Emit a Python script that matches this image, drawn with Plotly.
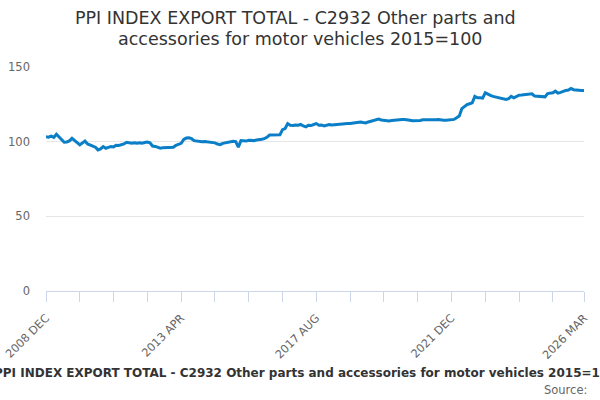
import plotly.graph_objects as go

MONTHS = ["JAN", "FEB", "MAR", "APR", "MAY", "JUN", "JUL", "AUG", "SEP", "OCT", "NOV", "DEC"]
start_year, start_month = 2008, 12
n_points = 208
categories = []
for k in range(n_points):
    m = (start_month - 1 + k) % 12
    y = start_year + (start_month - 1 + k) // 12
    categories.append(f"{y} {MONTHS[m]}")

values = [
    103.3, 103.0, 103.7, 102.9, 105.0, 103.3, 101.0, 99.6, 99.8, 100.5,
    102.2, 100.5, 99.3, 97.8, 98.9, 100.4, 98.5, 97.8, 97.1, 96.3,
    94.5, 95.2, 96.7, 95.6, 96.2, 96.7, 96.5, 97.6, 97.4, 97.8,
    98.5, 99.6, 99.3, 99.0, 99.3, 98.9, 99.3, 98.9, 99.4, 99.8,
    99.3, 97.1, 96.8, 96.3, 95.6, 96.0, 96.0, 96.2, 96.3, 96.3,
    97.6, 98.2, 98.9, 101.5, 102.4, 102.6, 102.0, 100.7, 100.4, 100.2,
    100.0, 100.1, 100.0, 99.8, 99.6, 99.2, 98.4, 98.0, 98.9, 99.3,
    99.6, 100.0, 100.2, 100.0, 96.3, 100.7, 100.4, 100.4, 100.9, 100.7,
    100.7, 101.1, 101.1, 101.6, 102.0, 102.9, 104.4, 104.4, 104.2, 104.4,
    104.6, 108.1, 108.8, 112.1, 111.0, 110.8, 111.2, 111.0, 111.5, 110.5,
    109.9, 111.0, 110.8, 111.5, 112.1, 111.0, 111.2, 110.5, 111.0, 111.4,
    111.2, 111.4, 111.6, 111.8, 112.1, 111.9, 112.1, 112.1, 112.4, 112.5,
    112.9, 113.2, 112.8, 112.5, 113.2, 113.6, 114.0, 114.2, 115.1, 114.5,
    114.3, 113.9, 113.8, 114.1, 114.3, 114.7, 114.8, 114.9, 114.8, 114.7,
    114.3, 114.0, 113.9, 113.8, 114.2, 114.7, 114.6, 114.5, 114.5, 114.5,
    114.7, 114.9, 114.5, 114.3, 114.3, 114.4, 114.6, 114.9, 116.0, 117.1,
    122.1, 123.5, 124.8, 125.4, 126.0, 130.3, 129.4, 129.4, 129.2, 132.7,
    131.6, 131.0, 130.3, 129.8, 129.4, 129.0, 128.5, 128.3, 128.8, 130.3,
    129.4, 130.2, 131.1, 131.2, 131.4, 131.5, 131.6, 132.0, 130.5, 130.4,
    130.3, 129.8, 130.0, 132.2, 132.5, 132.7, 133.8, 132.5, 133.0, 133.8,
    134.3, 134.6, 135.6, 134.8, 134.5, 134.7, 134.3, 134.3,
]

labelled = ["2008 DEC", "2013 APR", "2017 AUG", "2021 DEC", "2026 MAR"]
y_ticks = [0, 50, 100, 150]

tick_idx = list(range(0, n_points - 1, 13)) + [n_points - 1]
tickvals = [categories[i] for i in tick_idx]
ticktext = [c if c in labelled else "" for c in tickvals]

title_lines = ["PPI INDEX EXPORT TOTAL - C2932 Other parts and",
               "accessories for motor vehicles 2015=100"]
bottom_text = "PPI INDEX EXPORT TOTAL - C2932 Other parts and accessories for motor vehicles 2015=100"

# plot area geometry (pixels)
L, R, T, B = 46, 16, 67, 109
W, H = 600, 400
PW, PH = W - L - R, H - T - B


def px_to_paper_x(px):
    return (px - L) / PW


def px_to_paper_y(py):
    return (H - B - py) / PH


fig = go.Figure()
fig.add_trace(go.Scatter(
    x=categories, y=values, mode="lines",
    line=dict(color="#0a7ec6", width=3),
    hoverinfo="x+y",
))

annotations = []
for line, cx, py in zip(title_lines, [295, 300], [18.5, 38.5]):
    annotations.append(dict(
        text=line, xref="paper", yref="paper",
        x=px_to_paper_x(cx), y=px_to_paper_y(py),
        xanchor="center", yanchor="middle", showarrow=False,
        font=dict(size=17.5, color="#333333", family="DejaVu Sans")))
annotations.append(dict(
    text="<b>" + bottom_text + "</b>", xref="paper", yref="paper",
    x=px_to_paper_x(305), y=px_to_paper_y(373),
    xanchor="center", yanchor="middle", showarrow=False,
    font=dict(size=12, color="#333333", family="DejaVu Sans")))
annotations.append(dict(
    text="Source:", xref="paper", yref="paper",
    x=px_to_paper_x(589), y=px_to_paper_y(390),
    xanchor="right", yanchor="middle", showarrow=False,
    font=dict(size=11.5, color="#666666", family="DejaVu Sans")))

fig.update_layout(
    width=W, height=H,
    margin=dict(l=L, r=R, t=T, b=B, autoexpand=False),
    paper_bgcolor="white", plot_bgcolor="white",
    font=dict(family="DejaVu Sans", color="#666666", size=11),
    showlegend=False,
    xaxis=dict(
        type="category",
        range=[0, n_points - 1],
        tickmode="array", tickvals=tickvals, ticktext=ticktext,
        tickangle=-45,
        ticks="outside", ticklen=10, tickcolor="#ccd6eb", tickwidth=1,
        showline=True, linecolor="#ccd6eb", linewidth=1,
        showgrid=False, zeroline=False, automargin=False,
        ticklabelstandoff=5,
        tickfont=dict(size=11.3, color="#666666"),
    ),
    yaxis=dict(
        range=[0, 150],
        tickmode="array", tickvals=y_ticks,
        showgrid=True, gridcolor="#e6e6e6", gridwidth=1,
        zeroline=False, showline=False, automargin=False,
        ticks="", ticklabelstandoff=15,
        tickfont=dict(size=11.5, color="#666666"),
    ),
    annotations=annotations,
)

fig.write_html("out.html", config={"displayModeBar": False},
               post_script="document.body.style.margin='0';")
